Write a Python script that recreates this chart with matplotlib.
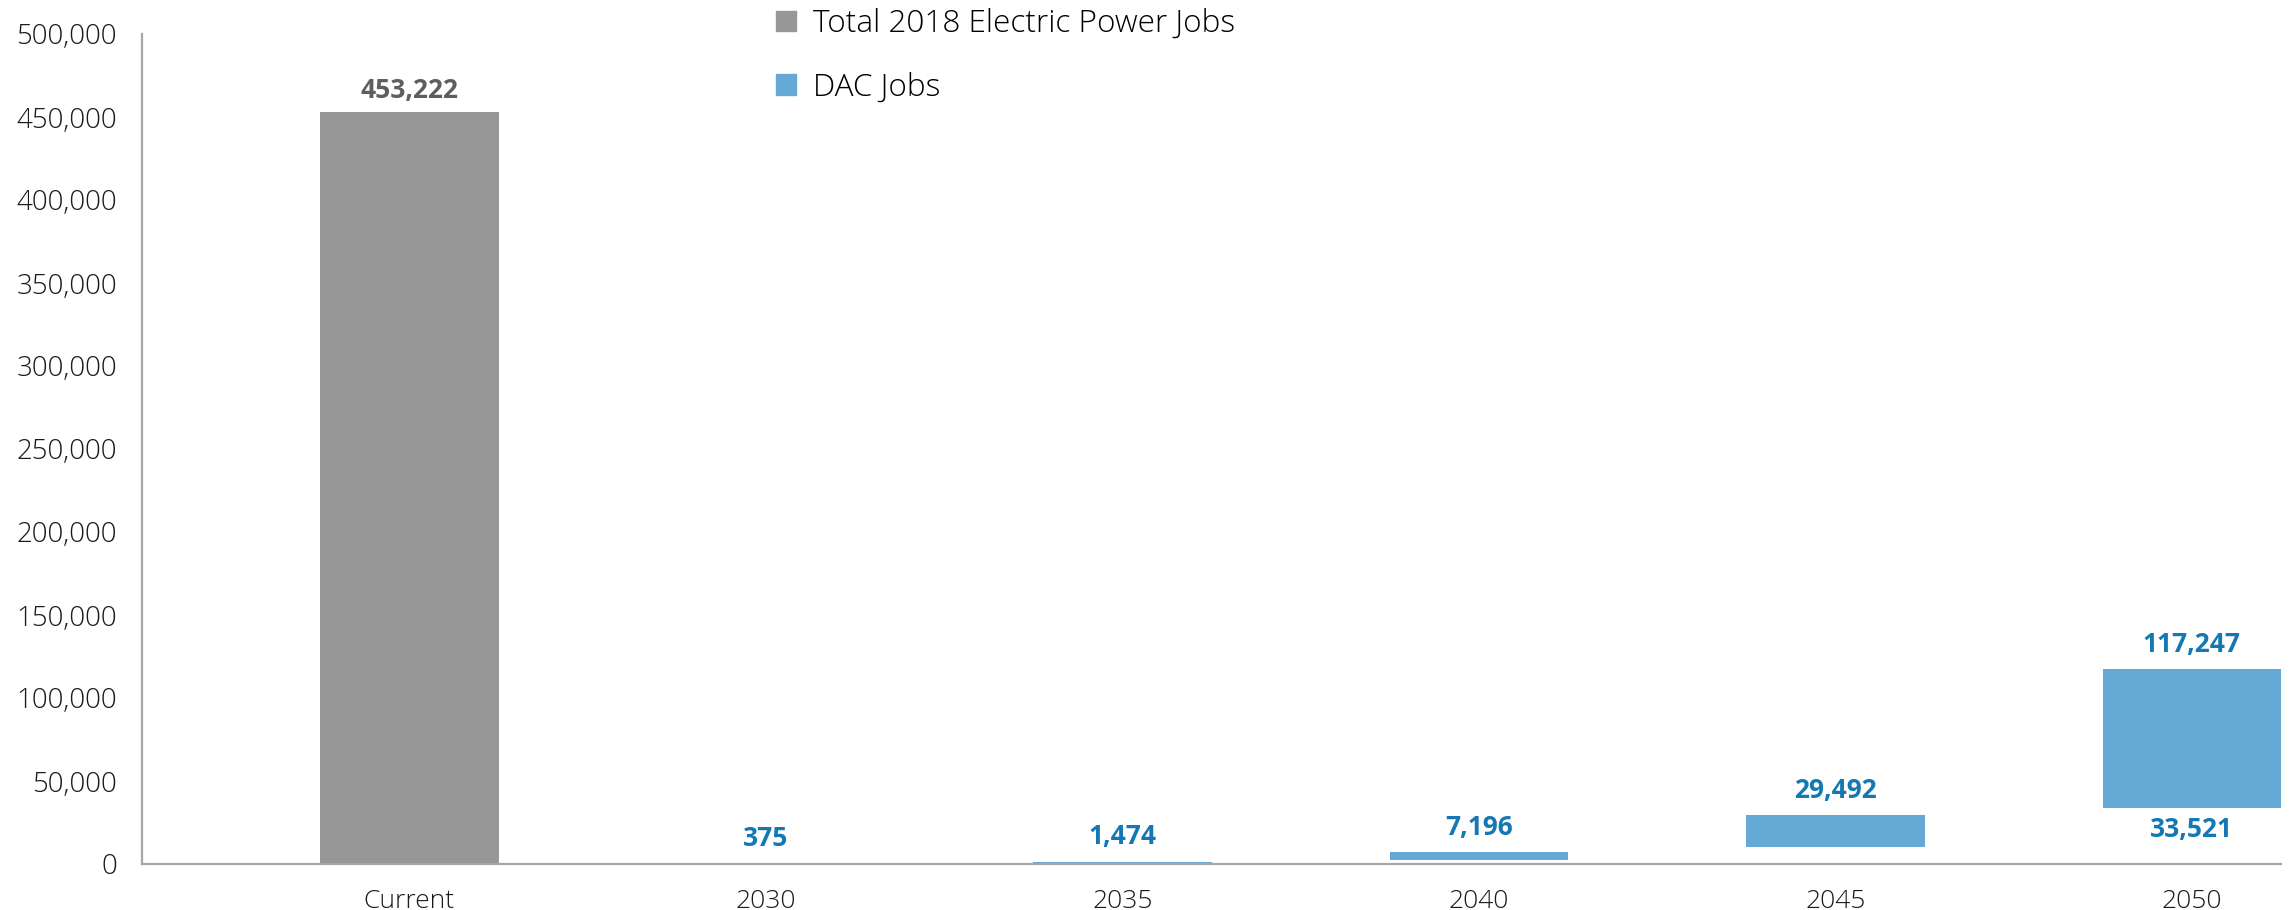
import matplotlib
matplotlib.use('Agg')
import matplotlib.pyplot as plt
from matplotlib.patches import Patch
from matplotlib.ticker import FuncFormatter

# ---- data ----
categories = ['Current', '2030', '2035', '2040', '2045', '2050']
current_jobs = [453222]
dac_low = [0, 500, 2600, 10200, 33521]
dac_high = [375, 1474, 7196, 29492, 117247]
y_ticks = [0, 50000, 100000, 150000, 200000, 250000, 300000, 350000, 400000, 450000, 500000]
legend_labels = ['Total 2018 Electric Power Jobs', 'DAC Jobs']

GRAY = '#979797'
BLUE = '#65AAD6'
GRAY_TXT = '#5E5E5E'
BLUE_TXT = '#1478B2'
FONT = 'Open Sans'

plt.rcParams['font.family'] = [FONT, 'DejaVu Sans']

W, H = 2292, 910
fig = plt.figure(figsize=(W / 100, H / 100), dpi=100)
ax = fig.add_axes([142 / W, 1 - 864 / H, (2281 - 142) / W, (864 - 34) / H])

x = list(range(len(categories)))
bw = 0.5
cur = ax.bar(x[:1], current_jobs, width=bw, color=GRAY)
dac_h = [h - l for h, l in zip(dac_high, dac_low)]
dac = ax.bar(x[1:], dac_h, bottom=dac_low, width=bw, color=BLUE)

ax.set_xlim(-0.75, len(categories) - 0.75)
ax.set_ylim(y_ticks[0], y_ticks[-1])
ax.set_yticks(y_ticks)
ax.yaxis.set_major_formatter(FuncFormatter(lambda v, p: f'{int(v):,}'))
ax.set_xticks(x)
ax.set_xticklabels(categories)

for s in ['top', 'right']:
    ax.spines[s].set_visible(False)
for s in ['left', 'bottom']:
    ax.spines[s].set_color('#A6A6A6')
    ax.spines[s].set_linewidth(1.6)

ax.tick_params(axis='both', length=0, colors='#1a1a1a')
ax.tick_params(axis='y', pad=18, labelsize=20)
ax.tick_params(axis='x', pad=18, labelsize=19)
for lab in ax.get_xticklabels() + ax.get_yticklabels():
    lab.set_fontweight('light')

# data labels
for xi, v in zip(x[:1], current_jobs):
    ax.annotate(f'{v:,}', (xi, v), xytext=(0, 21), textcoords='offset pixels',
                ha='center', va='center', fontsize=19, fontweight='bold', color=GRAY_TXT)
for xi, v in zip(x[1:], dac_high):
    ax.annotate(f'{v:,}', (xi, v), xytext=(0, 25), textcoords='offset pixels',
                ha='center', va='center', fontsize=19, fontweight='bold', color=BLUE_TXT)
# low label for last bar
ax.annotate(f'{dac_low[-1]:,}', (x[-1], dac_low[-1]), xytext=(0, -21), textcoords='offset pixels',
            ha='center', va='center', fontsize=19, fontweight='bold', color=BLUE_TXT)

handles = [Patch(color=GRAY), Patch(color=BLUE)]
fig.legend(handles, legend_labels, loc='upper left', bbox_to_anchor=(776 / W, 1 - 8 / H),
           frameon=False, fontsize=22.7, handlelength=0.62, handleheight=0.62,
           handletextpad=0.55, labelspacing=1.0, borderpad=0, borderaxespad=0)
for t in fig.legends[0].get_texts():
    t.set_fontweight('light')

fig.savefig('out.png', dpi=100)
